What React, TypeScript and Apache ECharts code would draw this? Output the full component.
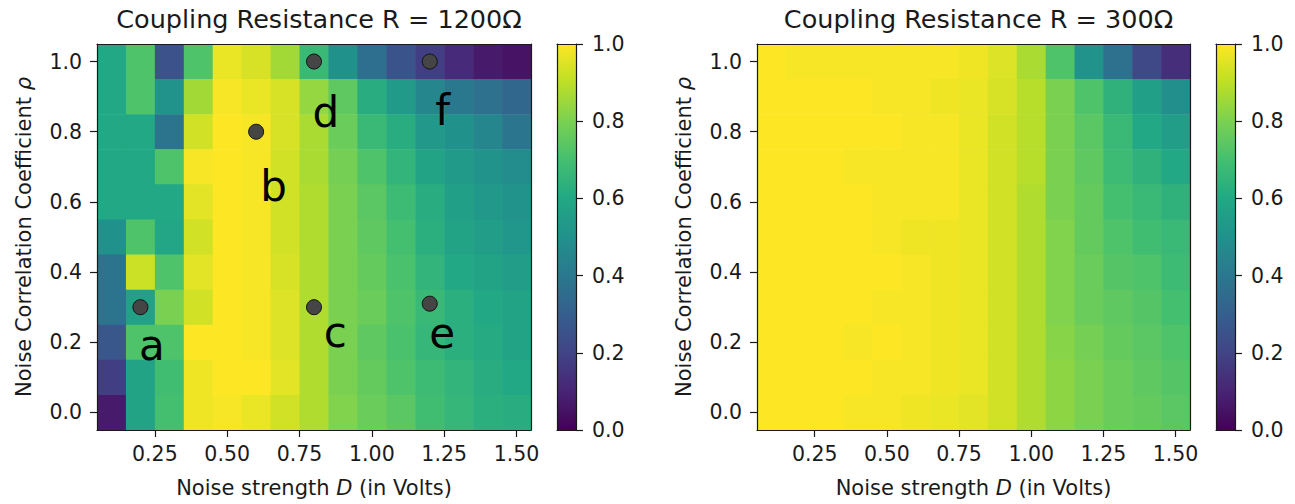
import { useEffect, useRef } from "react";
import * as echarts from "echarts";

// ---- data ----
const D_VALUES = [0.1, 0.2, 0.3, 0.4, 0.5, 0.6, 0.7, 0.8, 0.9, 1.0, 1.1, 1.2, 1.3, 1.4, 1.5];
const RHO_VALUES = [1.0, 0.9, 0.8, 0.7, 0.6, 0.5, 0.4, 0.3, 0.2, 0.1, 0.0];

// rows: rho = 1.0 (top) ... 0.0 (bottom); columns: D = 0.1 ... 1.5
const SYNC_R1200 = [
  [0.60, 0.72, 0.25, 0.72, 0.97, 0.94, 0.86, 0.67, 0.50, 0.36, 0.26, 0.18, 0.12, 0.07, 0.05],
  [0.60, 0.72, 0.51, 0.86, 0.99, 0.97, 0.94, 0.84, 0.75, 0.62, 0.54, 0.46, 0.40, 0.37, 0.33],
  [0.60, 0.60, 0.38, 0.93, 1.00, 0.99, 0.94, 0.87, 0.77, 0.67, 0.62, 0.53, 0.50, 0.46, 0.39],
  [0.60, 0.60, 0.72, 0.99, 1.00, 0.99, 0.93, 0.87, 0.79, 0.72, 0.65, 0.58, 0.54, 0.51, 0.48],
  [0.60, 0.60, 0.60, 0.96, 1.00, 0.99, 0.93, 0.88, 0.80, 0.74, 0.68, 0.62, 0.56, 0.53, 0.51],
  [0.50, 0.72, 0.59, 0.93, 1.00, 0.99, 0.93, 0.88, 0.80, 0.75, 0.70, 0.63, 0.58, 0.55, 0.52],
  [0.38, 0.92, 0.72, 0.96, 1.00, 0.99, 0.94, 0.88, 0.80, 0.76, 0.71, 0.65, 0.60, 0.58, 0.55],
  [0.38, 0.57, 0.80, 0.93, 1.00, 0.99, 0.95, 0.88, 0.80, 0.77, 0.72, 0.67, 0.63, 0.60, 0.58],
  [0.27, 0.72, 0.72, 1.00, 1.00, 0.99, 0.95, 0.88, 0.80, 0.75, 0.71, 0.66, 0.63, 0.61, 0.58],
  [0.18, 0.58, 0.69, 0.98, 1.00, 1.00, 0.96, 0.88, 0.80, 0.76, 0.72, 0.68, 0.65, 0.62, 0.60],
  [0.07, 0.58, 0.70, 0.98, 0.99, 0.97, 0.93, 0.88, 0.81, 0.77, 0.74, 0.69, 0.66, 0.63, 0.62],
];

const SYNC_R300 = [
  [1.00, 0.99, 0.99, 0.99, 0.99, 0.99, 0.99, 0.98, 0.95, 0.87, 0.72, 0.51, 0.37, 0.22, 0.13],
  [1.00, 1.00, 1.00, 1.00, 0.99, 0.99, 0.98, 0.97, 0.94, 0.89, 0.80, 0.72, 0.64, 0.56, 0.49],
  [1.00, 1.00, 1.00, 1.00, 1.00, 0.99, 0.99, 0.97, 0.93, 0.89, 0.80, 0.74, 0.67, 0.60, 0.55],
  [1.00, 1.00, 1.00, 0.99, 0.99, 0.99, 0.99, 0.97, 0.93, 0.89, 0.80, 0.75, 0.68, 0.64, 0.60],
  [1.00, 1.00, 1.00, 1.00, 0.99, 0.99, 0.99, 0.97, 0.93, 0.88, 0.80, 0.76, 0.70, 0.67, 0.64],
  [1.00, 1.00, 1.00, 1.00, 0.99, 0.98, 0.98, 0.97, 0.93, 0.88, 0.81, 0.76, 0.72, 0.69, 0.67],
  [1.00, 1.00, 1.00, 1.00, 1.00, 0.99, 0.98, 0.97, 0.93, 0.88, 0.81, 0.77, 0.73, 0.72, 0.68],
  [1.00, 1.00, 1.00, 1.00, 0.99, 0.99, 0.98, 0.97, 0.93, 0.88, 0.81, 0.77, 0.75, 0.73, 0.70],
  [1.00, 1.00, 1.00, 0.99, 1.00, 0.99, 0.98, 0.97, 0.93, 0.88, 0.82, 0.79, 0.76, 0.74, 0.72],
  [1.00, 1.00, 1.00, 1.00, 0.99, 0.99, 0.98, 0.97, 0.93, 0.88, 0.83, 0.80, 0.77, 0.75, 0.73],
  [1.00, 1.00, 1.00, 0.99, 0.99, 0.98, 0.97, 0.96, 0.93, 0.88, 0.83, 0.80, 0.77, 0.76, 0.74],
];

const X_TICKS = [0.25, 0.5, 0.75, 1.0, 1.25, 1.5];
const RHO_TICKS = [0.0, 0.2, 0.4, 0.6, 0.8, 1.0];
const CB_MIN = 0;
const CB_MAX = 1;

// marked operating points (left panel)
const MARK_NAMES = ["a", "b", "c", "d", "e", "f"];
const MARK_D = [0.2, 0.6, 0.8, 0.8, 1.2, 1.2];
const MARK_RHO = [0.3, 0.8, 0.3, 1.0, 0.31, 1.0];
const LETTER_D = [0.24, 0.66, 0.874, 0.841, 1.243, 1.245];
const LETTER_RHO = [0.19, 0.645, 0.228, 0.855, 0.224, 0.86];

const TITLES = ["Coupling Resistance R = 1200Ω", "Coupling Resistance R = 300Ω"];

const VIRIDIS = [
  "#440154", "#482475", "#414487", "#355f8d", "#2a788e", "#21918c",
  "#22a884", "#44bf70", "#7ad151", "#bddf26", "#fde725",
];

// ---- helpers ----
const HALF_D = (D_VALUES[1] - D_VALUES[0]) / 2;
const HALF_RHO = Math.abs(RHO_VALUES[0] - RHO_VALUES[1]) / 2;
const X_MIN = Math.min(...D_VALUES) - HALF_D;
const X_MAX = Math.max(...D_VALUES) + HALF_D;
const Y_MIN = Math.min(...RHO_VALUES) - HALF_RHO;
const Y_MAX = Math.max(...RHO_VALUES) + HALF_RHO;

function cells(matrix: number[][]) {
  const out: number[][] = [];
  matrix.forEach((row, i) =>
    row.forEach((v, j) => out.push([D_VALUES[j], RHO_VALUES[i], v]))
  );
  return out;
}

const FONT = "DejaVu Sans";
const TXT = "#1a1a1a";
const LINE = "#1a1a1a";

export default function App() {
  const ref = useRef<HTMLDivElement>(null);

  useEffect(() => {
    if (!ref.current) return;
    const chart = echarts.init(ref.current, undefined, { renderer: "svg" });

    const heatGrids = [
      { left: 97, top: 44, width: 434, height: 386 },
      { left: 757, top: 44, width: 433, height: 386 },
    ];
    const cbGrids = [
      { left: 557, top: 44, width: 19, height: 386 },
      { left: 1216, top: 44, width: 19, height: 386 },
    ];
    const grids = [heatGrids[0], cbGrids[0], heatGrids[1], cbGrids[1]];

    const xAxes: any[] = [];
    const yAxes: any[] = [];
    const lineOnly = { show: true, onZero: false, lineStyle: { color: LINE, width: 1.2 } };

    [0, 2].forEach((g) => {
      xAxes.push({
        type: "value", gridIndex: g, position: "bottom", min: X_MIN, max: X_MAX, z: 10,
        splitLine: { show: false },
        axisLine: lineOnly,
        axisTick: { show: true, customValues: X_TICKS, length: 7, lineStyle: { color: LINE, width: 1.2 } },
        axisLabel: {
          customValues: X_TICKS, formatter: (v: number) => v.toFixed(2),
          fontSize: 20.5, fontFamily: FONT, color: TXT, margin: 13,
        },
        name: "Noise strength {i|D} (in Volts)",
        nameLocation: "middle", nameGap: 47,
        nameTextStyle: {
          fontSize: 21, fontFamily: FONT, color: TXT,
          rich: { i: { fontSize: 21, fontFamily: FONT, color: TXT, fontStyle: "italic" } },
        },
      });
      xAxes.push({
        type: "value", gridIndex: g, position: "top", min: X_MIN, max: X_MAX, z: 10,
        splitLine: { show: false }, axisLine: lineOnly,
        axisTick: { show: false }, axisLabel: { show: false },
      });
      yAxes.push({
        type: "value", gridIndex: g, position: "left", min: Y_MIN, max: Y_MAX, z: 10,
        splitLine: { show: false },
        axisLine: lineOnly,
        axisTick: { show: true, customValues: RHO_TICKS, length: 7, lineStyle: { color: LINE, width: 1.2 } },
        axisLabel: {
          customValues: RHO_TICKS, formatter: (v: number) => v.toFixed(1),
          fontSize: 20.5, fontFamily: FONT, color: TXT, margin: 15,
        },
        name: "Noise Correlation Coefficient {i|ρ}",
        nameLocation: "middle", nameGap: 63,
        nameTextStyle: {
          fontSize: 21, fontFamily: FONT, color: TXT,
          rich: { i: { fontSize: 21, fontFamily: FONT, color: TXT, fontStyle: "italic" } },
        },
      });
      yAxes.push({
        type: "value", gridIndex: g, position: "right", min: Y_MIN, max: Y_MAX, z: 10,
        splitLine: { show: false }, axisLine: lineOnly,
        axisTick: { show: false }, axisLabel: { show: false },
      });
    });
    [1, 3].forEach((g) => {
      xAxes.push({
        type: "category", gridIndex: g, position: "bottom", data: ["cb"], z: 10,
        axisLine: lineOnly, axisTick: { show: false }, axisLabel: { show: false },
      });
      xAxes.push({
        type: "category", gridIndex: g, position: "top", data: ["cb"], z: 10,
        axisLine: lineOnly, axisTick: { show: false }, axisLabel: { show: false },
      });
      yAxes.push({
        type: "value", gridIndex: g, position: "right", min: CB_MIN, max: CB_MAX, interval: 0.2, z: 10,
        splitLine: { show: false }, axisLine: lineOnly,
        axisTick: { show: true, length: 7, lineStyle: { color: LINE, width: 1.2 } },
        axisLabel: {
          formatter: (v: number) => v.toFixed(1),
          fontSize: 20.5, fontFamily: FONT, color: TXT, margin: 16,
        },
      });
      yAxes.push({
        type: "value", gridIndex: g, position: "left", min: CB_MIN, max: CB_MAX, z: 10,
        splitLine: { show: false }, axisLine: lineOnly,
        axisTick: { show: false }, axisLabel: { show: false },
      });
    });

    const renderCell = (_p: any, api: any) => {
      const x = api.value(0);
      const y = api.value(1);
      const p0 = api.coord([x - HALF_D, y + HALF_RHO]);
      const p1 = api.coord([x + HALF_D, y - HALF_RHO]);
      return {
        type: "rect",
        shape: { x: p0[0], y: p0[1], width: p1[0] - p0[0] + 0.6, height: p1[1] - p0[1] + 0.6 },
        style: { fill: api.visual("color"), opacity: 1 },
      };
    };

    const gradStops = VIRIDIS.map((c, i) => ({ offset: 1 - i / (VIRIDIS.length - 1), color: c })).reverse();

    const colorbar = (xi: number, yi: number) => ({
      type: "bar", xAxisIndex: xi, yAxisIndex: yi, barWidth: "100%", silent: true,
      data: [CB_MAX],
      itemStyle: { color: new echarts.graphic.LinearGradient(0, 0, 0, 1, gradStops), opacity: 1 },
    });

    const option: any = {
      animation: false,
      backgroundColor: "#ffffff",
      textStyle: { fontFamily: FONT },
      title: TITLES.map((t, i) => ({
        text: t,
        left: heatGrids[i].left + heatGrids[i].width / 2,
        textAlign: "center",
        top: 1,
        textStyle: { fontSize: 25.5, fontWeight: "normal", fontFamily: FONT, color: TXT },
      })),
      grid: grids,
      xAxis: xAxes,
      yAxis: yAxes,
      visualMap: {
        show: false, type: "continuous", min: CB_MIN, max: CB_MAX, dimension: 2,
        seriesIndex: [0, 3], inRange: { color: VIRIDIS },
      },
      series: [
        {
          type: "custom", xAxisIndex: 0, yAxisIndex: 0, renderItem: renderCell,
          encode: { x: 0, y: 1 }, data: cells(SYNC_R1200), silent: true,
        },
        {
          type: "scatter", xAxisIndex: 0, yAxisIndex: 0, symbolSize: 15, z: 4, silent: true,
          itemStyle: { color: "#454545", borderColor: "#111", borderWidth: 1, opacity: 1 },
          data: MARK_D.map((d, i) => [d, MARK_RHO[i]]),
        },
        {
          type: "scatter", xAxisIndex: 0, yAxisIndex: 0, symbolSize: 1, z: 5, silent: true,
          itemStyle: { color: "rgba(0,0,0,0)", opacity: 1 },
          label: {
            show: true, position: "inside", formatter: "{b}", opacity: 1,
            fontSize: 42, fontFamily: FONT, color: "#000",
          },
          data: MARK_NAMES.map((n, i) => ({ name: n, value: [LETTER_D[i], LETTER_RHO[i]] })),
        },
        {
          type: "custom", xAxisIndex: 2, yAxisIndex: 2, renderItem: renderCell,
          encode: { x: 0, y: 1 }, data: cells(SYNC_R300), silent: true,
        },
        colorbar(4, 4),
        colorbar(6, 6),
      ],
    };

    chart.setOption(option);
    return () => chart.dispose();
  }, []);

  return (
    <div
      ref={ref}
      style={{ position: "fixed", left: 0, top: 0, width: 1295, height: 504, background: "#fff" }}
    />
  );
}
